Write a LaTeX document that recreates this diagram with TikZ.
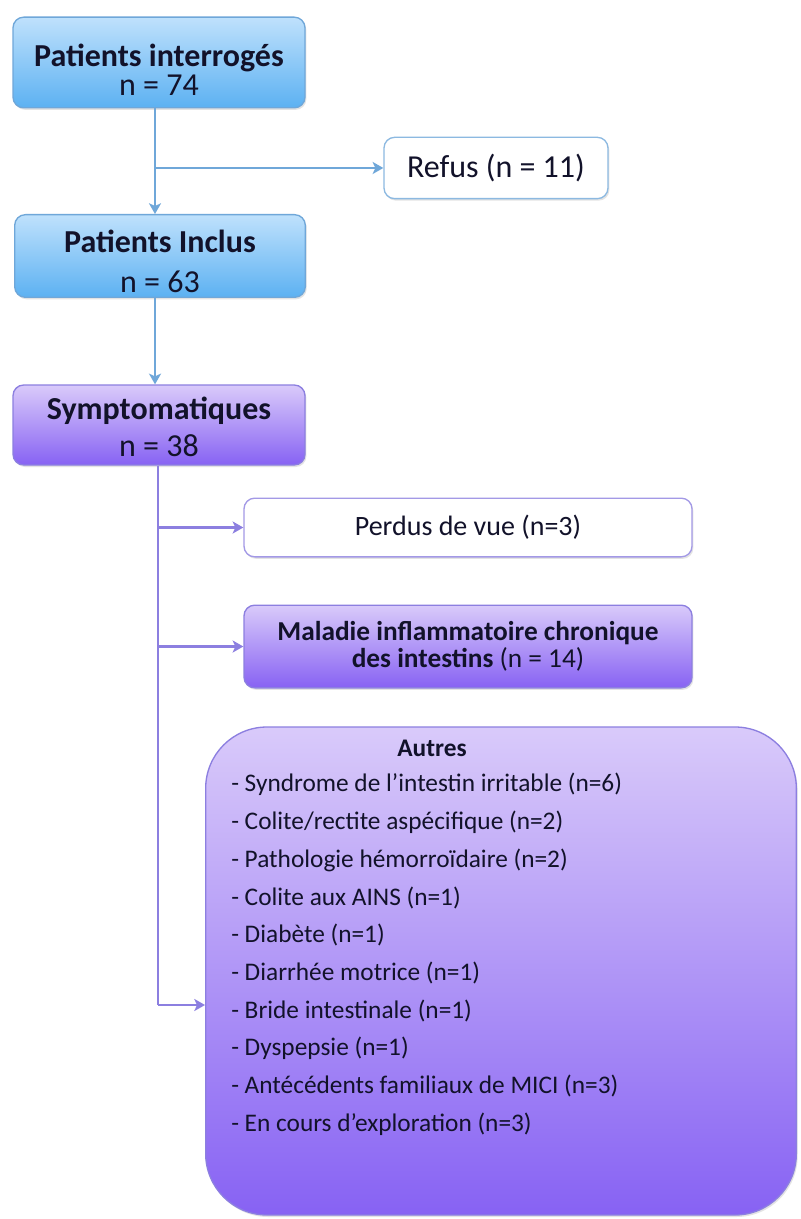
\documentclass[tikz,border=0pt]{standalone}
\usepackage{fontspec}
\setmainfont{Carlito}
\usetikzlibrary{arrows.meta,shadows}
\definecolor{bluetop}{HTML}{BFE1FC}
\definecolor{bluebot}{HTML}{5CB1F2}
\definecolor{blueline}{HTML}{6FA7D9}
\definecolor{purtop}{HTML}{D9CAFA}
\definecolor{purbot}{HTML}{8762F3}
\definecolor{purline}{HTML}{8C7FE0}
\definecolor{txt}{HTML}{12122A}
\tikzset{
  box/.style={rounded corners=8pt, line width=1pt, inner sep=0pt,
    drop shadow={opacity=0.22, shadow xshift=1pt, shadow yshift=-1.5pt}},
  bluebox/.style={box, draw=blueline, top color=bluetop, bottom color=bluebot},
  purbox/.style={box, draw=purline, top color=purtop, bottom color=purbot},
  whitebluebox/.style={box, draw=blueline!80, fill=white},
  whitepurbox/.style={box, draw=purline!80, fill=white},
  lbl/.style={text=txt, inner sep=0pt, align=center},
  bconn/.style={draw=blueline, line width=1.6pt, -{Stealth[length=8pt,width=9pt,inset=2pt]}},
  pconn/.style={draw=purline, line width=1.6pt, -{Stealth[length=8pt,width=9pt,inset=2pt]}},
  pline/.style={draw=purline, line width=1.6pt},
}
\begin{document}
\begin{tikzpicture}[x=0.75pt,y=-0.75pt]
\useasboundingbox (0,0) rectangle (800,1219);
\fill[white] (0,0) rectangle (800,1219);
% blue boxes
\node[bluebox, minimum width=219pt, minimum height=68pt] (b1) at (159,62.5) {};
\node[lbl, font=\fontsize{24}{22}\selectfont\bfseries] (b1t) at (159,70) {Patients interrogés\\\mdseries n = 74};
\node[bluebox, minimum width=218pt, minimum height=62pt] (b2) at (160,256) {};
\node[lbl, font=\fontsize{24}{30}\selectfont\bfseries] (b2t) at (160,261) {Patients Inclus\\\mdseries n = 63};
\node[whitebluebox, minimum width=168pt, minimum height=46pt, text=txt, font=\fontsize{24}{28}\selectfont]
  (refus) at (496,168) {Refus (n = 11)};
% purple boxes
\node[purbox, minimum width=219pt, minimum height=60pt] (b3) at (159,425) {};
\node[lbl, font=\fontsize{24}{28}\selectfont\bfseries] (b3t) at (159,427) {Symptomatiques\\\mdseries n = 38};
\node[whitepurbox, minimum width=336pt, minimum height=44pt, text=txt, font=\fontsize{21}{26}\selectfont]
  (perdus) at (468,527.5) {Perdus de vue (n=3)};
\node[purbox, minimum width=336pt, minimum height=62pt, text=txt, align=center, font=\fontsize{20.5}{20.5}\selectfont\bfseries]
  (mici) at (468,646.5) {Maladie inflammatoire chronique\\des intestins \mdseries(n = 14)};
\node[purbox, rounded corners=46pt, minimum width=443pt, minimum height=366pt]
  (autres) at (501,971) {};
\node[lbl, font=\fontsize{19}{24}\selectfont\bfseries] (atitle) at (432,748) {Autres};
\node[text=txt, anchor=north west, align=left, inner sep=0pt, font=\fontsize{19}{28.3}\selectfont] (alist) at (231,773) {%
- Syndrome de l’intestin irritable (n=6)\\
- Colite/rectite aspécifique (n=2)\\
- Pathologie hémorroïdaire (n=2)\\
- Colite aux AINS (n=1)\\
- Diabète (n=1)\\
- Diarrhée motrice (n=1)\\
- Bride intestinale (n=1)\\
- Dyspepsie (n=1)\\
- Antécédents familiaux de MICI (n=3)\\
- En cours d’exploration (n=3)};
% connectors
\coordinate (j1) at (155,168);
\coordinate (j2) at (158,1005);
\draw[bconn] (b1.south -| j1) -- (b2.north -| j1);
\draw[bconn] (j1) -- (refus.west);
\draw[bconn] (b2.south -| j1) -- (b3.north -| j1);
\draw[pline] (b3.south -| j2) -- (j2);
\draw[pconn] (perdus.west -| j2) -- (perdus.west);
\draw[pconn] (mici.west -| j2) -- (mici.west);
\draw[pconn] (j2) -- (autres.west |- j2);
\end{tikzpicture}
\end{document}
